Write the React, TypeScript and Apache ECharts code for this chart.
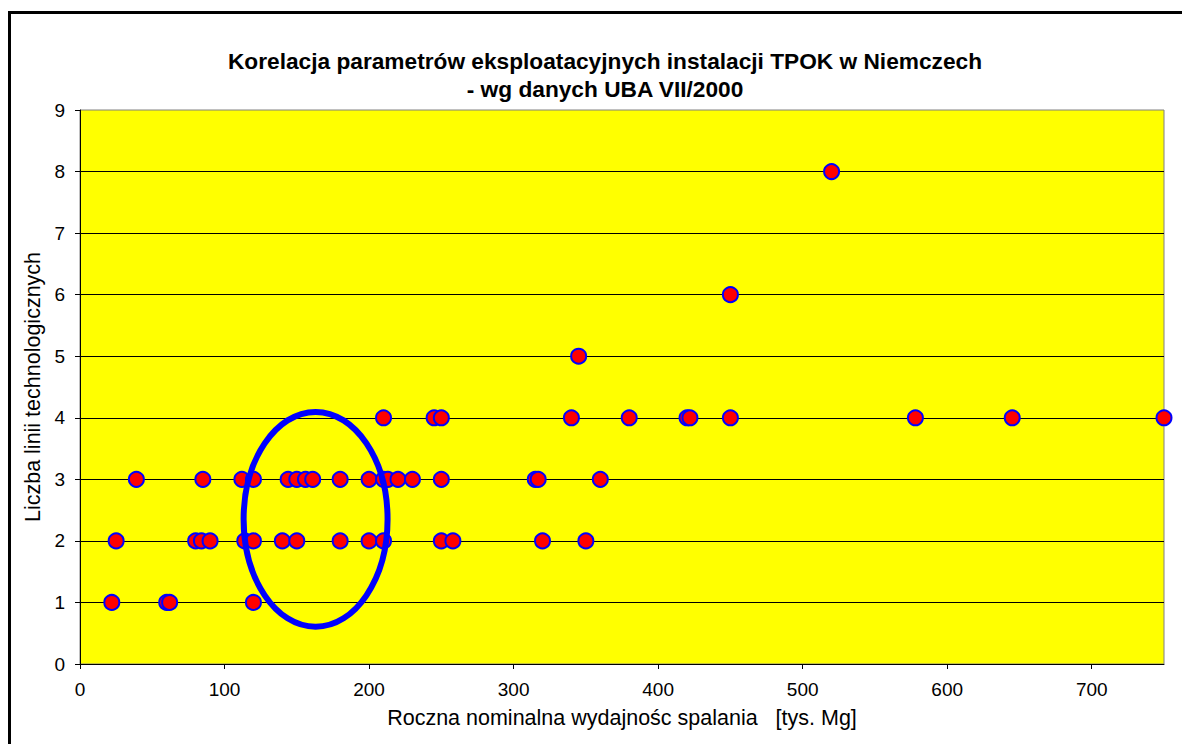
import { useEffect, useRef } from "react";
import * as echarts from "echarts";

const titleLines = [
  "Korelacja parametrów eksploatacyjnych instalacji TPOK w Niemczech",
  "- wg danych UBA VII/2000",
];
const xAxisName = "Roczna nominalna wydajnośc spalania   [tys. Mg]";
const yAxisName = "Liczba linii technologicznych";
const xTicks = [0, 100, 200, 300, 400, 500, 600, 700];

// capacity [tys. Mg] of installations, grouped by number of technological lines
const capacityWith1Line = [22, 60, 62, 120];
const capacityWith2Lines = [25, 80, 84, 90, 114, 120, 140, 150, 180, 200, 210, 250, 258, 320, 350];
const capacityWith3Lines = [39, 85, 112, 120, 144, 150, 156, 161, 180, 200, 210, 213, 220, 230, 250, 315, 317, 360];
const capacityWith4Lines = [210, 245, 250, 340, 380, 420, 422, 450, 578, 645, 750];
const capacityWith5Lines = [345];
const capacityWith6Lines = [450];
const capacityWith8Lines = [520];

// highlighted cluster (ellipse), in data units
const clusterCenter = [163, 2.35];
const clusterRadius = [49.8, 1.745];

const FONT = "'Liberation Sans', Arial, sans-serif";

export default function App() {
  const ref = useRef<HTMLDivElement>(null);
  useEffect(() => {
    if (!ref.current) return;
    const chart = echarts.init(ref.current, null, { renderer: "svg" });
    const groups: [number[], number][] = [
      [capacityWith1Line, 1],
      [capacityWith2Lines, 2],
      [capacityWith3Lines, 3],
      [capacityWith4Lines, 4],
      [capacityWith5Lines, 5],
      [capacityWith6Lines, 6],
      [capacityWith8Lines, 8],
    ];
    const data: number[][] = [];
    groups.forEach(([xs, y]) => xs.forEach((x) => data.push([x, y])));

    const frame = {
      id: "frame",
      type: "rect",
      silent: true,
      shape: { x: 9.5, y: 12.5, width: 1400, height: 1000 },
      style: { fill: "none", stroke: "#000", lineWidth: 3 },
    };

    chart.setOption({
      animation: false,
      textStyle: { fontFamily: FONT },
      title: {
        text: titleLines.join("\n"),
        left: 600,
        top: 42,
        textAlign: "center",
        textStyle: {
          fontFamily: FONT,
          fontSize: 22.7,
          fontWeight: "bold",
          lineHeight: 28,
          color: "#000",
        },
      },
      grid: {
        left: 80,
        right: 18,
        top: 110,
        bottom: 80,
        show: true,
        backgroundColor: "#ffff00",
        borderColor: "#808080",
        borderWidth: 1,
      },
      xAxis: {
        type: "value",
        min: 0,
        max: 750,
        interval: 100,
        name: xAxisName,
        nameLocation: "middle",
        nameGap: 43,
        nameTextStyle: { fontSize: 21.5, color: "#000", fontFamily: FONT },
        axisLine: { show: true, onZero: false, lineStyle: { color: "#000", width: 1 } },
        axisTick: { show: true, inside: false, length: 5, customValues: xTicks, lineStyle: { color: "#000" } },
        axisLabel: { customValues: xTicks, fontSize: 19, color: "#000", margin: 16, fontFamily: FONT },
        splitLine: { show: false },
      },
      yAxis: {
        type: "value",
        min: 0,
        max: 9,
        interval: 1,
        name: yAxisName,
        nameLocation: "middle",
        nameGap: 33,
        nameTextStyle: { fontSize: 21.5, color: "#000", fontFamily: FONT },
        axisLine: { show: true, onZero: false, lineStyle: { color: "#000", width: 1 } },
        axisTick: { show: true, inside: false, length: 5, lineStyle: { color: "#000" } },
        axisLabel: { fontSize: 19, color: "#000", margin: 15, fontFamily: FONT },
        splitLine: { show: true, showMinLine: false, showMaxLine: false, lineStyle: { color: "#000", width: 1 } },
      },
      series: [
        {
          type: "scatter",
          data,
          symbol: "circle",
          symbolSize: 15,
          itemStyle: { color: "#ff0000", borderColor: "#0000ff", borderWidth: 2, opacity: 1 },
          z: 3,
        },
      ],
      graphic: [frame],
    });

    const c = chart.convertToPixel({ gridIndex: 0 }, clusterCenter) as number[];
    const e = chart.convertToPixel({ gridIndex: 0 }, [
      clusterCenter[0] + clusterRadius[0],
      clusterCenter[1] + clusterRadius[1],
    ]) as number[];
    chart.setOption({
      graphic: [
        frame,
        {
          id: "cluster",
          type: "ellipse",
          silent: true,
          z: 10,
          shape: { cx: c[0], cy: c[1], rx: Math.abs(e[0] - c[0]), ry: Math.abs(c[1] - e[1]) },
          style: { fill: "none", stroke: "#0000ff", lineWidth: 6 },
        },
      ],
    });

    return () => chart.dispose();
  }, []);
  return (
    <div
      ref={ref}
      style={{ position: "absolute", left: 0, top: 0, width: 1182, height: 744, background: "#fff" }}
    />
  );
}
